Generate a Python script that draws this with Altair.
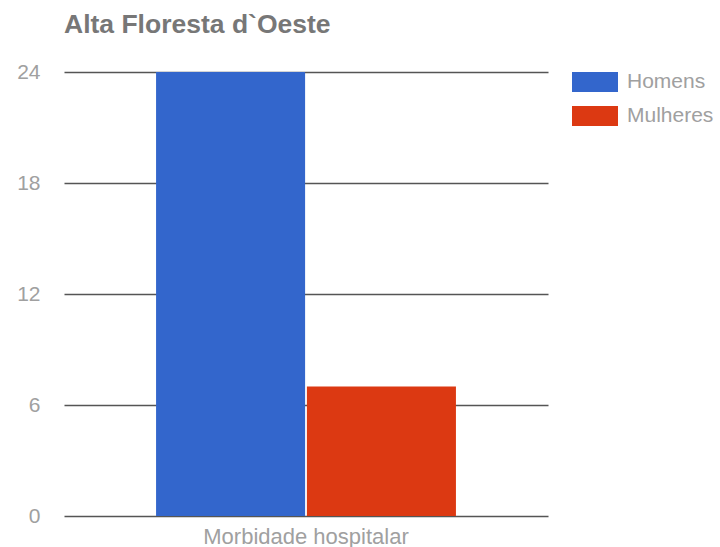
import altair as alt
import pandas as pd

categories = ["Morbidade hospitalar", "Morbidade hospitalar"]
series = ["Homens", "Mulheres"]
values = [24, 7]
colors = ["#3366CC", "#DC3912"]
y_ticks = [0, 6, 12, 18, 24]

df = pd.DataFrame({"cat": categories, "serie": series, "valor": values})

rect_path = "M-1,-0.435L1,-0.435L1,0.435L-1,0.435Z"

chart = alt.Chart(df).mark_bar().encode(
    x=alt.X("cat:N", title=None,
            scale=alt.Scale(paddingInner=0, paddingOuter=0.307),
            axis=alt.Axis(labelAngle=0, labelFontSize=22, labelColor="#a0a0a0",
                          labelFont="Liberation Sans", labelPadding=10, labelLimit=0,
                          domain=False, ticks=False, grid=False)),
    xOffset=alt.XOffset("serie:N", scale=alt.Scale(paddingInner=0.012, paddingOuter=0)),
    y=alt.Y("valor:Q", title=None,
            scale=alt.Scale(domain=[0, 24], nice=False),
            axis=alt.Axis(values=y_ticks, labelFontSize=21, labelColor="#a0a0a0",
                          labelFont="Liberation Sans", labelPadding=24,
                          domain=False, ticks=False, grid=True,
                          gridColor="#555555", gridWidth=1.3, gridOpacity=1)),
    color=alt.Color("serie:N", title=None,
                    scale=alt.Scale(domain=series, range=colors),
                    legend=alt.Legend(orient="none", legendX=508, legendY=-13,
                                      symbolType=rect_path, symbolSize=2116,
                                      symbolStrokeWidth=0, symbolOpacity=1,
                                      labelFontSize=21, labelColor="#a0a0a0",
                                      labelFont="Liberation Sans", labelOffset=9,
                                      rowPadding=-12, padding=0)),
).properties(
    width=484, height=444,
    title=alt.Title("Alta Floresta d`Oeste", anchor="start", frame="group", fontSize=26.5,
                    font="Liberation Sans", fontWeight="bold", color="#777777",
                    offset=21),
    padding={"left": 64, "top": 72, "right": 172, "bottom": 31},
    autosize=alt.AutoSizeParams(type="none"),
).configure_view(stroke=None).configure_axis(gridCap="butt")

chart.save("out.html", embed_options={"renderer": "svg", "actions": False})
